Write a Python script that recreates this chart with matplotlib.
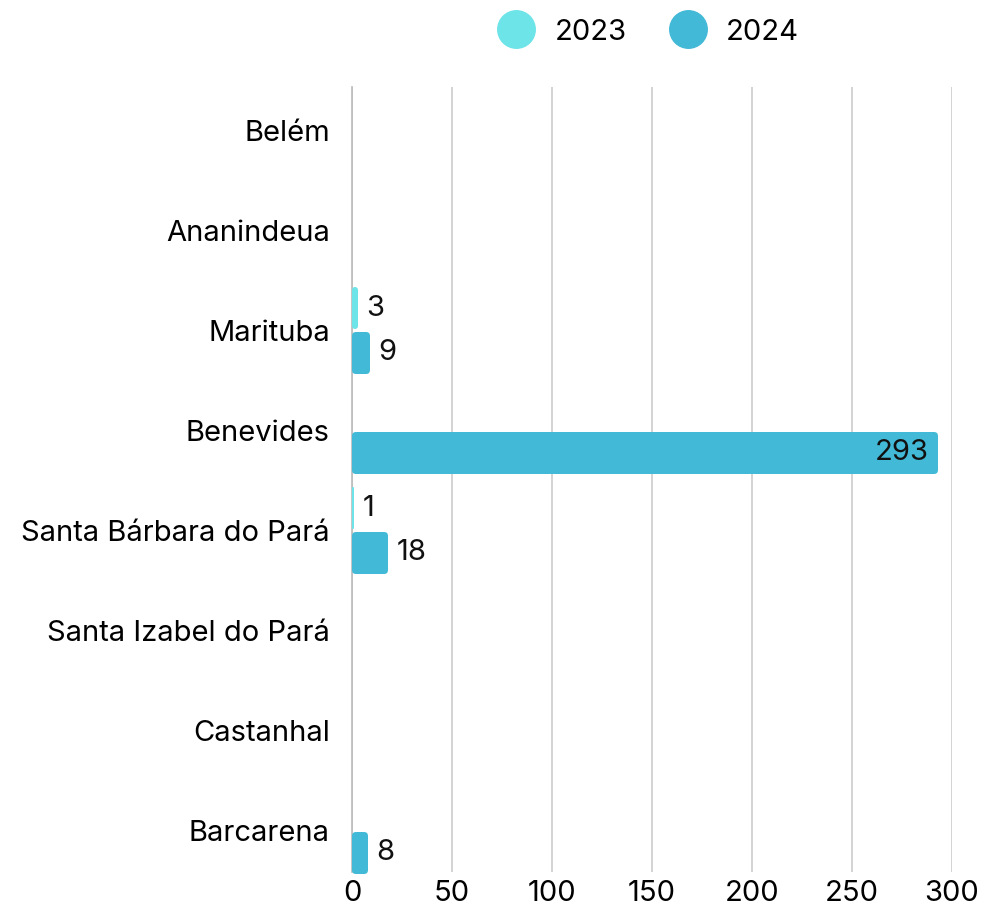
import numpy as np
import matplotlib
matplotlib.use("Agg")
import matplotlib.pyplot as plt
from matplotlib.lines import Line2D
from matplotlib.patches import FancyBboxPatch

plt.rcParams["font.family"] = ["Inter", "DejaVu Sans"]

# data
municipios = [
    "Belém",
    "Ananindeua",
    "Marituba",
    "Benevides",
    "Santa Bárbara do Pará",
    "Santa Izabel do Pará",
    "Castanhal",
    "Barcarena",
]
valores_2023 = [0, 0, 3, 0, 1, 0, 0, 0]
valores_2024 = [0, 0, 9, 293, 18, 0, 0, 8]
anos = ["2023", "2024"]
cores = ["#6de4e8", "#42b9d7"]
x_ticks = [0, 50, 100, 150, 200, 250, 300]

FS = 21

fig = plt.figure(figsize=(9.85, 9.15), dpi=100)
ax = fig.add_axes([352 / 985, 43 / 915, 600 / 985, 785 / 915])

y = np.arange(len(municipios))
h = 0.42
off = 0.225

for vals, cor, d in ((valores_2023, cores[0], -off), (valores_2024, cores[1], off)):
    vals = np.array(vals)
    mask = vals > 0
    bars = ax.barh(y[mask] + d, vals[mask], height=h, color=cor, zorder=3)
    for b, v in zip(bars, vals[mask]):
        # swap the plain bar for a rounded one (2 px per x unit, 100 px per category)
        b.set_visible(False)
        r = min(2.0, v / 2)
        ax.add_patch(FancyBboxPatch((b.get_x(), b.get_y()), b.get_width(), b.get_height(),
                                    boxstyle=f"round,pad=0,rounding_size={r}",
                                    mutation_aspect=0.02, facecolor=cor,
                                    edgecolor="none", zorder=3, clip_on=False))
        cy = b.get_y() + b.get_height() / 2
        if v > 200:
            ax.annotate(str(v), (v, cy), xytext=(-7, 0), textcoords="offset points",
                        ha="right", va="center", fontsize=FS, color="#111111", zorder=4)
        else:
            ax.annotate(str(v), (v, cy), xytext=(6, 0), textcoords="offset points",
                        ha="left", va="center", fontsize=FS, color="#111111", zorder=4)

ax.set_xlim(0, 300)
ax.set_ylim(7.415, -0.435)
ax.set_yticks(y)
ax.set_yticklabels(municipios, fontsize=FS)
ax.set_xticks(x_ticks)
ax.set_xticklabels([str(t) for t in x_ticks], fontsize=FS)
ax.tick_params(axis="y", length=0, pad=16)
ax.tick_params(axis="x", length=0, pad=6)

ax.grid(axis="x", color="#cccccc", linewidth=1.2, zorder=0)
for s in ["top", "right", "bottom"]:
    ax.spines[s].set_visible(False)
ax.spines["left"].set_color("#bbbbbb")
ax.spines["left"].set_linewidth(1.2)

handles = [Line2D([], [], marker="o", linestyle="", markersize=27, color=c) for c in cores]
fig.legend(handles, anos, loc="center", bbox_to_anchor=(643 / 985, 1 - 32 / 915),
           ncol=2, frameon=False, fontsize=FS, handletextpad=0.3, columnspacing=1.1)

fig.savefig("out.png", dpi=100)
